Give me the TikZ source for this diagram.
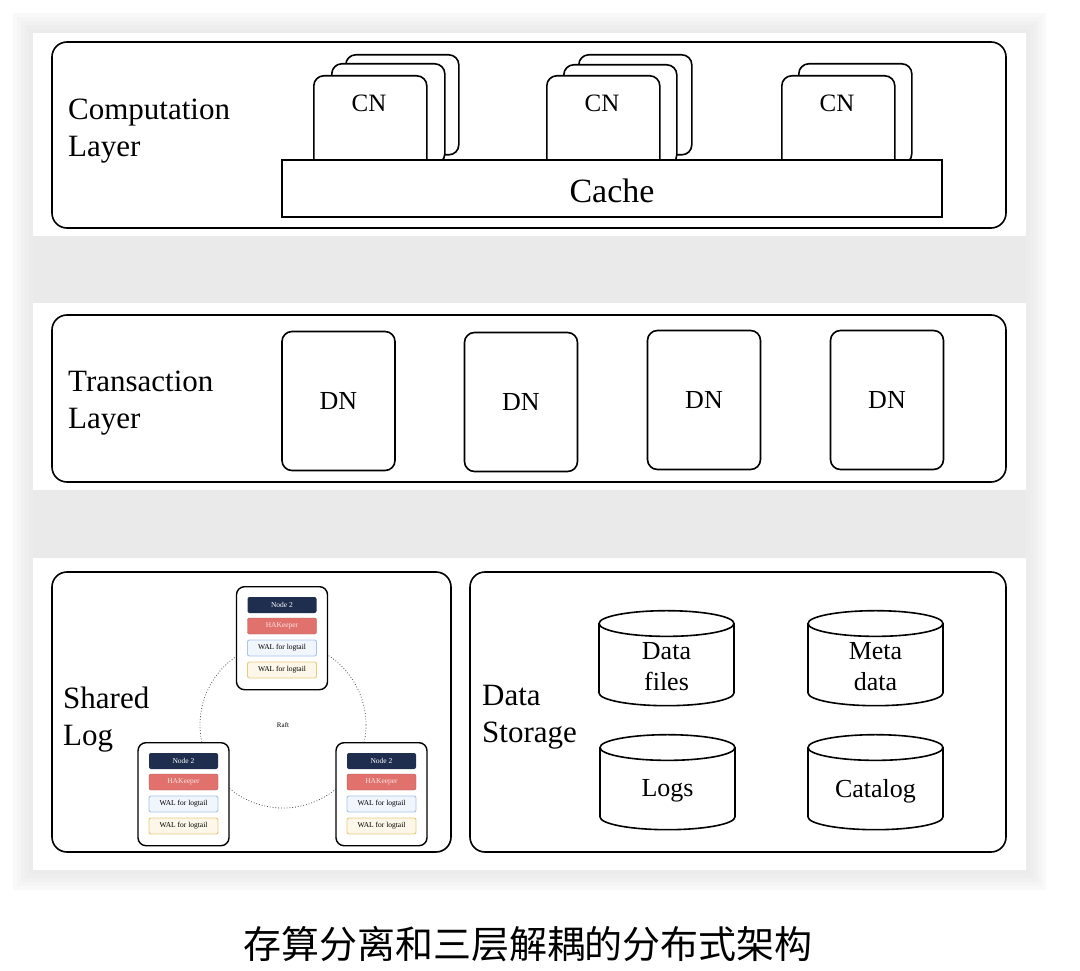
\documentclass[tikz,border=0pt]{standalone}
\usepackage{fontspec}
\setmainfont{Liberation Serif}
\newfontfamily\cjkfont{Noto Sans CJK SC}
\usetikzlibrary{shapes.geometric}
\definecolor{navy}{HTML}{1F2D4E}
\definecolor{hared}{HTML}{E0716D}
\definecolor{hatext}{HTML}{FBE4E4}
\definecolor{walblue}{HTML}{A9C3EC}
\definecolor{walbluebg}{HTML}{F1F5FC}
\definecolor{walyel}{HTML}{E6CC7A}
\definecolor{walyelbg}{HTML}{FCF7E8}

\tikzset{
  layer/.style={draw, line width=1.6pt, rounded corners=15pt},
  lbl/.style={align=left, anchor=west, inner sep=0pt, font=\fontsize{31}{37}\selectfont},
  cnbox/.style={draw, fill=white, line width=1.6pt, rounded corners=10pt,
    anchor=north west, minimum width=113, minimum height=100},
  dnbox/.style={draw, fill=white, line width=1.6pt, rounded corners=10pt,
    minimum width=113, minimum height=139, font=\fontsize{26}{31}\selectfont},
  cyl/.style={cylinder, shape border rotate=90, draw, line width=1.6pt, aspect=0.22,
    minimum width=135, minimum height=95, text width=110pt, align=center,
    font=\fontsize{26}{31}\selectfont},
  card/.style={draw, fill=white, line width=1.4pt, rounded corners=8pt,
    anchor=north, minimum width=91, minimum height=103},
  bar/.style={rounded corners=2pt, minimum width=69, minimum height=16,
    inner sep=0pt, font=\fontsize{7.5}{9}\selectfont},
}

\begin{document}
\begin{tikzpicture}[x=1pt,y=-1pt]
\useasboundingbox (0,0) rectangle (1080,971);

% grey backdrop with soft edges
\foreach \s in {0,4,...,20}
  \fill[black!11, opacity=.2] (33-\s,33-\s) rectangle (1026+\s,870+\s);
\fill[white] (33,33) rectangle (1026,236);
\fill[white] (33,303) rectangle (1026,490);
\fill[white] (33,558) rectangle (1026,870);

% computation layer
\draw[layer] (52,42) rectangle (1006,228);
\node[lbl] (complbl) at (68,131) {Computation\\Layer};
\node[cnbox] (cn1c) at (345,54) {};
\node[cnbox] (cn1b) at (331,63) {};
\node[cnbox] (cn1a) at (313,75) {};
\node[cnbox] (cn2c) at (578,54) {};
\node[cnbox] (cn2b) at (563,64) {};
\node[cnbox] (cn2a) at (546,75) {};
\node[cnbox] (cn3b) at (798,63) {};
\node[cnbox] (cn3a) at (781,75) {};
\node[font=\fontsize{25}{30}\selectfont] (cn1t) at (369,103) {CN};
\node[font=\fontsize{25}{30}\selectfont] (cn2t) at (602,103) {CN};
\node[font=\fontsize{25}{30}\selectfont] (cn3t) at (837,103) {CN};
\node[draw, fill=white, line width=1.6pt, minimum width=660, minimum height=57,
  font=\fontsize{34}{40}\selectfont, text height=29pt, text depth=0pt] (cache) at (612,188.5) {Cache};

% transaction layer
\draw[layer] (52,315) rectangle (1006,482);
\node[lbl] (txnlbl) at (68,403) {Transaction\\Layer};
\node[dnbox] (dn1) at (338.5,401) {DN};
\node[dnbox] (dn2) at (521,402) {DN};
\node[dnbox] (dn3) at (704,400) {DN};
\node[dnbox] (dn4) at (887,400) {DN};

% shared log
\draw[layer] (52,572) rectangle (451,852);
\node[lbl] (loglbl) at (63,720) {Shared\\Log};
\node[circle, draw=black!70, dotted, line width=.8pt, minimum size=166,
  font=\fontsize{7}{8}\selectfont] (raft) at (283,725) {Raft};
\foreach \cx/\cy/\nm in {282/586/a, 183.5/742/b, 381.5/742/c}{
  \node[card] (card\nm) at (\cx,\cy) {};
  \node[bar, fill=navy, text=white] (node\nm) at (\cx,\cy+19) {Node 2};
  \node[bar, fill=hared, draw=hared!80!black, text=hatext] (hak\nm) at (\cx,\cy+40) {HAKeeper};
  \node[bar, fill=walbluebg, draw=walblue, line width=.9pt] (walb\nm) at (\cx,\cy+62) {WAL for logtail};
  \node[bar, fill=walyelbg, draw=walyel, line width=.9pt] (waly\nm) at (\cx,\cy+84) {WAL for logtail};
}

% data storage
\draw[layer] (470,572) rectangle (1006,852);
\node[lbl] (storlbl) at (482,717) {Data\\Storage};
\node[cyl] (datafiles) at (666.5,667) {Data\\files};
\node[cyl] (metadata) at (875.5,667) {Meta\\data};
\node[cyl] (logs) at (667.5,791) {Logs};
\node[cyl] (catalog) at (875.5,791) {Catalog};

% caption
\node[font=\cjkfont\fontsize{38}{42}\selectfont] (caption) at (528,944)
  {存算分离和三层解耦的分布式架构};
\end{tikzpicture}
\end{document}
